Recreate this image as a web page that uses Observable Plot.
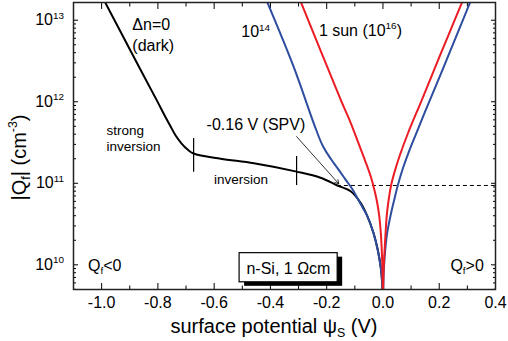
<!DOCTYPE html>
<html><head><meta charset="utf-8">
<script src="https://cdn.jsdelivr.net/npm/d3@7"></script>
<script src="https://cdn.jsdelivr.net/npm/@observablehq/plot@0.6"></script>
<style>
html,body{margin:0;padding:0;background:#fff;}
svg{display:block;}
</style></head><body><div id="chart"></div>
<script>
// ---- data ----
// dark curve, Δn = 0
const darkPsi = [-1.000, -0.894, -0.802, -0.7761, -0.7566, -0.7370, -0.7157, -0.6944, -0.6731, -0.577, -0.459, -0.307, -0.222, -0.162, -0.115, -0.080, -0.055, -0.033, -0.018, -0.0078, -0.0025, -0.0004];
const darkQ   = [2.0e13, 4.02e12, 1.01e12, 6.78e11, 5.11e11, 3.85e11, 3.07e11, 2.59e11, 2.32e11, 2.0e11, 1.76e11, 1.39e11, 1.17e11, 9.4e10, 8.0e10, 5.8e10, 3.91e10, 2.42e10, 1.5e10, 9.27e9, 5.9e9, 3.65e9];
// Δn = 1e14
const lowPsi = [-0.421, -0.3177, -0.2431, -0.2146, -0.1862, -0.1578, -0.1329, -0.1080, -0.0902, -0.0725, -0.0547, -0.0334, -0.0181, -0.0078, -0.0025, -0.0004,
                0.0004, 0.0014, 0.0036, 0.0078, 0.0146, 0.0270, 0.0394, 0.0526, 0.0718, 0.0910, 0.1166, 0.1660, 0.2150, 0.2644, 0.3195];
const lowQ   = [2.0e13, 2.70e12, 5.11e11, 2.91e11, 2.01e11, 1.47e11, 1.11e11, 8.4e10, 6.5e10, 5.05e10, 3.91e10, 2.42e10, 1.50e10, 9.27e9, 5.9e9, 3.65e9,
                3.65e9, 5.9e9, 9.27e9, 1.5e10, 2.42e10, 4.03e10, 6.15e10, 9.4e10, 1.56e11, 2.38e11, 3.96e11, 1.035e12, 2.63e12, 6.87e12, 2.0e13];
// 1 sun, Δn = 1e16
const sunPsi = [-0.301, -0.2217, -0.1489, -0.1151, -0.0867, -0.0636, -0.0423, -0.0299, -0.0220, -0.0135, -0.0075, -0.0028, -0.0007, -0.0002,
                0.0002, 0.0007, 0.0021, 0.0057, 0.0092, 0.0135, 0.0199, 0.0288, 0.0426, 0.0597, 0.0885, 0.1372, 0.1851, 0.2321, 0.291];
const sunQ   = [2.0e13, 4.25e12, 1.035e12, 5.56e11, 3.08e11, 1.90e11, 1.18e11, 8.15e10, 6.15e10, 4.03e10, 2.42e10, 1.13e10, 4.98e9, 3.65e9,
                3.65e9, 4.98e9, 8.1e9, 1.5e10, 2.42e10, 4.03e10, 6.15e10, 9.4e10, 1.43e11, 2.19e11, 4.08e11, 1.035e12, 2.63e12, 6.49e12, 2.0e13];

const xMajor = [-1.0, -0.8, -0.6, -0.4, -0.2, 0.0, 0.2, 0.4];
const xMinor = [-0.9, -0.7, -0.5, -0.3, -0.1, 0.1, 0.3];
const yMajor = [1e10, 1e11, 1e12, 1e13];
const yMinor = [5e9, 6e9, 7e9, 8e9, 9e9,
  2e10, 3e10, 4e10, 5e10, 6e10, 7e10, 8e10, 9e10,
  2e11, 3e11, 4e11, 5e11, 6e11, 7e11, 8e11, 9e11,
  2e12, 3e12, 4e12, 5e12, 6e12, 7e12, 8e12, 9e12];
const spvLevel = 9.4e10;

const toRows = (xs, ys) => xs.map((x, i) => ({x, y: ys[i]}));
const dark = toRows(darkPsi, darkQ);
const low = toRows(lowPsi, lowQ);
const sun = toRows(sunPsi, sunQ);

const FONT = "'Liberation Sans', Arial, Helvetica, sans-serif";
const fmtX = d => d.toFixed(1);
const fmtY = d => `10^{${Math.round(Math.log10(d))}}`;
const none = () => "";

const chart = Plot.plot({
  width: 508, height: 341,
  marginLeft: 73, marginRight: 13, marginTop: 2, marginBottom: 52,
  style: {fontFamily: FONT, fontSize: "16px", color: "black", background: "white"},
  x: {domain: [-1.1, 0.4], label: null},
  y: {type: "log", domain: [4.98e9, 1.65e13], label: null},
  marks: [
    // axes
    Plot.axisX({anchor: "bottom", ticks: xMajor, tickSize: -6, tickPadding: 13.5, tickFormat: fmtX, label: null}),
    Plot.axisX({anchor: "bottom", ticks: xMinor, tickSize: -3.5, tickFormat: none, label: null}),
    Plot.axisX({anchor: "top", ticks: xMajor, tickSize: -6, tickFormat: none, label: null}),
    Plot.axisX({anchor: "top", ticks: xMinor, tickSize: -3.5, tickFormat: none, label: null}),
    Plot.axisY({anchor: "left", ticks: yMajor, tickSize: -5, tickPadding: 14.5, tickFormat: fmtY, label: null}),
    Plot.axisY({anchor: "left", ticks: yMinor, tickSize: -3, tickFormat: none, label: null}),
    Plot.axisY({anchor: "right", ticks: yMajor, tickSize: -5, tickFormat: none, label: null}),
    Plot.axisY({anchor: "right", ticks: yMinor, tickSize: -3, tickFormat: none, label: null}),

    // dashed SPV level
    Plot.ruleY([spvLevel], {x1: -0.162, x2: 0.4, stroke: "black", strokeWidth: 1, strokeDasharray: "4,3"}),

    // curves
    Plot.line(dark, {x: "x", y: "y", stroke: "black", strokeWidth: 2, curve: "catmull-rom", clip: true}),
    Plot.line(low, {x: "x", y: "y", stroke: "#2e4d9e", strokeWidth: 2, curve: "catmull-rom", clip: true}),
    Plot.line(sun, {x: "x", y: "y", stroke: "#ec1c24", strokeWidth: 2, curve: "catmull-rom", clip: true}),

    // markers on the dark curve
    Plot.ruleX([-0.673], {y1: 1.37e11, y2: 3.54e11, stroke: "black", strokeWidth: 1.2}),
    Plot.ruleX([-0.307], {y1: 9.4e10, y2: 2.13e11, stroke: "black", strokeWidth: 1.2}),

    // SPV arrow
    Plot.arrow([0], {x1: -0.307, y1: 3.74e11, x2: -0.157, y2: 9.85e10, stroke: "black", strokeWidth: 0.8, headLength: 8}),

    // annotation box with shadow
    Plot.rect([0], {x1: -0.5096, x2: -0.161, y1: 6.1e9, y2: 1.39e10, fill: "black", dx: 5, dy: 4}),
    Plot.rect([0], {x1: -0.5096, x2: -0.161, y1: 6.1e9, y2: 1.39e10, fill: "white", stroke: "black", strokeWidth: 1.2}),
    Plot.text(["n-Si, 1 Ωcm"], {x: -0.336, y: 7.8e9, textAnchor: "middle", lineAnchor: "bottom", fontSize: 16}),

    // labels
    Plot.text(["Δn=0"], {x: -0.891, y: 7.5e12, textAnchor: "start", lineAnchor: "bottom", fontSize: 16}),
    Plot.text(["(dark)"], {x: -0.891, y: 4.25e12, textAnchor: "start", lineAnchor: "bottom", fontSize: 16}),
    Plot.text(["strong"], {x: -0.983, y: 3.96e11, textAnchor: "start", lineAnchor: "bottom", fontSize: 13.5}),
    Plot.text(["inversion"], {x: -0.983, y: 2.52e11, textAnchor: "start", lineAnchor: "bottom", fontSize: 13.5}),
    Plot.text(["inversion"], {x: -0.601, y: 9.93e10, textAnchor: "start", lineAnchor: "bottom", fontSize: 13.5}),
    Plot.text(["-0.16 V (SPV)"], {x: -0.627, y: 4.56e11, textAnchor: "start", lineAnchor: "bottom", fontSize: 16}),
    Plot.text(["10^{14}"], {x: -0.5036, y: 6.18e12, textAnchor: "start", lineAnchor: "bottom", fontSize: 16}),
    Plot.text(["1 sun (10^{16})"], {x: -0.2278, y: 6.49e12, textAnchor: "start", lineAnchor: "bottom", fontSize: 16}),
    Plot.text(["Q_{f}<0"], {x: -1.0487, y: 8.5e9, textAnchor: "start", lineAnchor: "bottom", fontSize: 16}),
    Plot.text(["Q_{f}>0"], {x: 0.3586, y: 8.5e9, textAnchor: "end", lineAnchor: "bottom", fontSize: 16}),

    // axis titles
    Plot.text(["surface potential ψ_{S} (V)"], {frameAnchor: "bottom", dx: -10.5, dy: 43, textAnchor: "middle", lineAnchor: "bottom", fontSize: 20}),
    Plot.text(["|Q_{f}| (cm^{-3})"], {frameAnchor: "left", dx: -48, dy: 11.5, rotate: -90, textAnchor: "middle", lineAnchor: "bottom", fontSize: 20}),

    Plot.frame({stroke: "#222", strokeWidth: 1.5})
  ]
});

document.getElementById("chart").appendChild(chart);

// turn ^{..} and _{..} into superscript / subscript tspans
function richify(svg) {
  const NS = "http://www.w3.org/2000/svg";
  svg.querySelectorAll("text").forEach(t => {
    const s = t.textContent;
    if (!/[\^_]\{/.test(s)) return;
    const fs = parseFloat(getComputedStyle(t).fontSize) || 16;
    while (t.firstChild) t.removeChild(t.firstChild);
    const re = /([\^_])\{([^}]*)\}/g;
    let last = 0, m, shift = 0;
    const add = (txt, kind) => {
      const ts = document.createElementNS(NS, "tspan");
      const target = kind === "^" ? -0.42 * fs : kind === "_" ? 0.22 * fs : 0;
      if (target - shift !== 0) ts.setAttribute("dy", (target - shift).toFixed(2));
      shift = target;
      if (kind) ts.setAttribute("font-size", (0.62 * fs).toFixed(2));
      ts.textContent = txt;
      t.appendChild(ts);
    };
    while ((m = re.exec(s))) {
      if (m.index > last) add(s.slice(last, m.index), null);
      add(m[2], m[1]);
      last = re.lastIndex;
    }
    if (last < s.length) add(s.slice(last), null);
  });
}
richify(chart);
</script>
</body></html>
